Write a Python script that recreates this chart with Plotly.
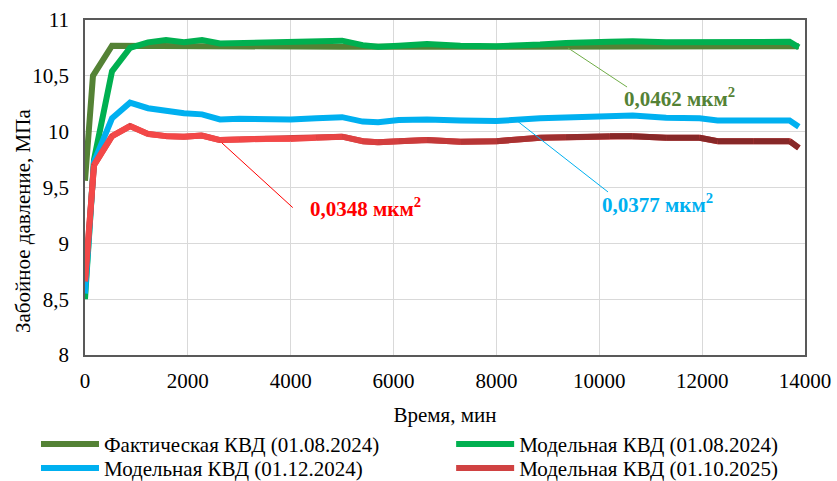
import plotly.graph_objects as go

# ---------------- data ----------------
x_fact = [0, 155, 525, 2000, 5000, 8000, 11000, 13880]
p_fact = [9.56, 10.50, 10.77, 10.765, 10.76, 10.76, 10.765, 10.765]

x_model = [0, 175, 525, 875, 1225, 1575, 1925, 2275, 2625, 3000, 3500, 4000, 4500,
           5000, 5400, 5700, 6100, 6650, 7300, 8000, 8850, 9350, 10200, 10650,
           11300, 11950, 12300, 13000, 13700, 13880]

p_model_0824 = [8.50, 9.75, 10.54, 10.75, 10.80, 10.82, 10.80, 10.82, 10.79, 10.795,
                10.79, 10.80, 10.805, 10.815, 10.775, 10.76, 10.77, 10.785, 10.77,
                10.765, 10.78, 10.795, 10.805, 10.81, 10.80, 10.80, 10.80, 10.80,
                10.805, 10.755]

p_model_1224 = [8.55, 9.73, 10.12, 10.26, 10.21, 10.185, 10.165, 10.155, 10.11, 10.115,
                10.11, 10.11, 10.12, 10.13, 10.09, 10.085, 10.105, 10.11, 10.10,
                10.095, 10.12, 10.13, 10.14, 10.145, 10.125, 10.12, 10.10, 10.10,
                10.10, 10.045]

p_model_1025 = [8.66, 9.70, 9.96, 10.05, 9.98, 9.96, 9.955, 9.965, 9.925, 9.93,
                9.935, 9.935, 9.945, 9.955, 9.915, 9.905, 9.915, 9.925, 9.91,
                9.915, 9.945, 9.95, 9.96, 9.96, 9.945, 9.945, 9.915, 9.915,
                9.915, 9.855]

names = ["Фактическая КВД (01.08.2024)", "Модельная КВД (01.08.2024)",
         "Модельная КВД (01.12.2024)", "Модельная КВД (01.10.2025)"]

x_ticks = [0, 2000, 4000, 6000, 8000, 10000, 12000, 14000]
y_ticks = [8, 8.5, 9, 9.5, 10, 10.5, 11]

x_title = "Время, мин"
y_title = "Забойное давление, МПа"

labels = ["0,0462 мкм<sup>2</sup>", "0,0377 мкм<sup>2</sup>", "0,0348 мкм<sup>2</sup>"]
# leader line endpoints (data coords) and label positions
label_line = [((9390, 10.75), (10540, 10.40)),
              ((8420, 10.09), (10170, 9.46)),
              ((2660, 9.90), (4040, 9.32))]
label_pos = [(11550, 10.31), (11140, 9.36), (5460, 9.325)]

# ---------------- style ----------------
FONT = "Liberation Serif"
FS = 21
C_FACT = "#548235"
C_GREEN = "#00B050"
C_BLUE = "#00B0F0"
C_RED_A = (243, 72, 72)
C_RED_B = (135, 40, 40)
LW = 6


def red_at(xv):
    # gradient along x: bright until ~4000, dark from ~10500
    t = (xv - 4000) / 6500.0
    t = max(0.0, min(1.0, t))
    c = [round(a + (b - a) * t) for a, b in zip(C_RED_A, C_RED_B)]
    return "rgb(%d,%d,%d)" % tuple(c)


fig = go.Figure()
fig.add_trace(go.Scatter(x=x_fact, y=p_fact, mode="lines", name=names[0], legend="legend",
                         line=dict(color=C_FACT, width=LW)))
fig.add_trace(go.Scatter(x=x_model, y=p_model_0824, mode="lines", name=names[1], legend="legend2",
                         line=dict(color=C_GREEN, width=LW)))
fig.add_trace(go.Scatter(x=x_model, y=p_model_1224, mode="lines", name=names[2], legend="legend3",
                         line=dict(color=C_BLUE, width=LW)))
fig.add_trace(go.Scatter(x=x_model, y=p_model_1025, mode="lines", name=names[3], legend="legend4",
                         line=dict(color="#D04242", width=LW)))
# gradient overlay for the red series, one piece per data interval
for i in range(len(x_model) - 1):
    xm = 0.5 * (x_model[i] + x_model[i + 1])
    fig.add_trace(go.Scatter(x=x_model[i:i + 2], y=p_model_1025[i:i + 2], mode="lines",
                             showlegend=False, hoverinfo="skip",
                             line=dict(color=red_at(xm), width=LW)))

line_cols = ["#70AD47", C_BLUE, "#FF0000"]
text_cols = [C_FACT, C_BLUE, "#FF0000"]
for (p0, p1), (tx, ty), lab, lc, tc in zip(label_line, label_pos, labels, line_cols, text_cols):
    fig.add_shape(type="line", x0=p0[0], y0=p0[1], x1=p1[0], y1=p1[1],
                  line=dict(color=lc, width=1))
    fig.add_annotation(x=tx, y=ty, text="<b>%s</b>" % lab, showarrow=False,
                       font=dict(family=FONT, size=FS, color=tc))

# y-axis title
fig.add_annotation(xref="paper", yref="paper", x=0, y=0.40, xshift=-76,
                   text=y_title, textangle=-90, showarrow=False,
                   font=dict(family=FONT, size=FS, color="black"))

leg_common = dict(orientation="v", xref="container", yref="container",
                  xanchor="left", yanchor="top", itemwidth=58, tracegroupgap=0,
                  font=dict(family=FONT, size=FS, color="black"),
                  bgcolor="rgba(0,0,0,0)")

fig.update_layout(
    width=837, height=481,
    margin=dict(l=85, r=32, t=20, b=126, autoexpand=False),
    paper_bgcolor="white", plot_bgcolor="white",
    separators=", ",
    font=dict(family=FONT, size=FS, color="black"),
    showlegend=True,
    legend=dict(x=0.043, y=0.119, **leg_common),
    legend2=dict(x=0.539, y=0.119, **leg_common),
    legend3=dict(x=0.043, y=0.069, **leg_common),
    legend4=dict(x=0.539, y=0.069, **leg_common),
)
fig.update_xaxes(range=[0, 14000], tickvals=x_ticks, tickformat="d",
                 showgrid=True, gridcolor="#D9D9D9", gridwidth=1,
                 showline=True, linecolor="#595959", linewidth=1.5, mirror=True,
                 zeroline=False, ticks="outside", ticklen=6, tickcolor="rgba(0,0,0,0)",
                 title=dict(text=x_title, font=dict(family=FONT, size=FS)),
                 tickfont=dict(family=FONT, size=FS))
fig.update_yaxes(range=[8, 11], tickvals=y_ticks,
                 showgrid=True, gridcolor="#D9D9D9", gridwidth=1,
                 showline=True, linecolor="#595959", linewidth=1.5, mirror=True,
                 zeroline=False, ticks="outside", ticklen=10, tickcolor="rgba(0,0,0,0)",
                 tickfont=dict(family=FONT, size=FS))

fig.write_html("out.html")
